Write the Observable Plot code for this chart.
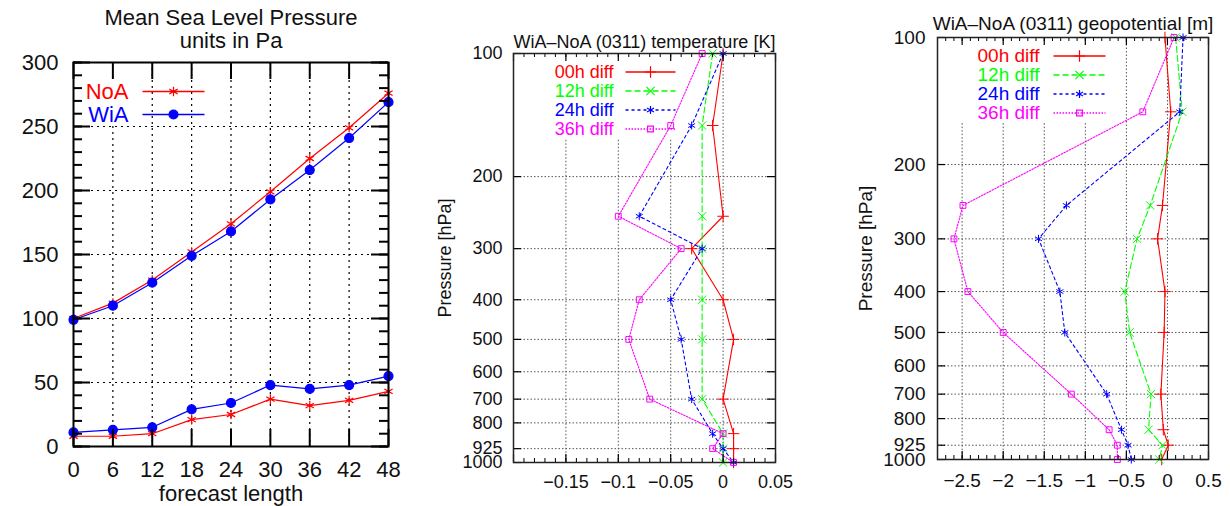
<!DOCTYPE html>
<html><head><meta charset="utf-8">
<script src="https://cdn.jsdelivr.net/npm/d3@7"></script>
<script src="https://cdn.jsdelivr.net/npm/@observablehq/plot@0.6"></script>
<style>
html,body{margin:0;padding:0;background:#fff;}
#wrap{position:relative;width:1230px;height:506px;overflow:hidden;background:#fff;}
#wrap svg{position:absolute;top:0;}
</style></head><body><div id="wrap"></div>
<script>
// ---------- data ----------
const leadHours = [0, 6, 12, 18, 24, 30, 36, 42, 48];
const noaRmse = [100, 112, 130, 152, 174, 199, 225, 249, 276];
const wiaRmse = [99, 110, 128, 149, 168, 193, 216, 241, 269];
const noaBias = [8, 8, 10, 21, 25, 37, 32, 36, 43];
const wiaBias = [11, 13, 15, 29, 34, 48, 45, 48, 55];
const mslpYTicks = [0, 50, 100, 150, 200, 250, 300];
const mslpNames = ["NoA", "WiA"];

const pressureLevels = [100, 150, 250, 300, 400, 500, 700, 850, 925, 1000];
const pressureTicks = [100, 200, 300, 400, 500, 600, 700, 800, 925, 1000];
const diffLabels = ["00h diff", "12h diff", "24h diff", "36h diff"];

const tempDiff00 = [0, -0.01, 0, -0.03, 0, 0.01, 0, 0.01, 0.01, 0.01];
const tempDiff12 = [-0.01, -0.02, -0.02, -0.02, -0.02, -0.02, -0.02, 0, 0, 0];
const tempDiff24 = [0, -0.03, -0.08, -0.02, -0.05, -0.04, -0.03, -0.01, 0, 0.01];
const tempDiff36 = [-0.02, -0.05, -0.1, -0.04, -0.08, -0.09, -0.07, 0, -0.01, 0.01];
const tempXTicks = [-0.15, -0.1, -0.05, 0, 0.05];

const geoDiff00 = [-0.03, 0.04, -0.06, -0.12, -0.03, -0.04, -0.08, -0.05, 0.01, -0.07];
const geoDiff12 = [0.1, 0.18, -0.21, -0.37, -0.52, -0.46, -0.2, -0.23, -0.06, -0.1];
const geoDiff24 = [0.19, 0.15, -1.23, -1.57, -1.31, -1.25, -0.74, -0.56, -0.48, -0.44];
const geoDiff36 = [0.08, -0.3, -2.49, -2.6, -2.43, -2.0, -1.17, -0.71, -0.61, -0.61];
const geoXTicks = [-2.5, -2, -1.5, -1, -0.5, 0, 0.5];

const titles = {
  mslp: ["Mean Sea Level Pressure", "units in Pa"],
  temp: "WiA\u2013NoA (0311) temperature [K]",
  geo: "WiA\u2013NoA (0311) geopotential [m]",
  xlab: "forecast length",
  ylab: "Pressure [hPa]"
};

// ---------- helpers ----------
const wrap = document.getElementById("wrap");
const FONT = "'Liberation Sans', Arial, Helvetica, sans-serif";
const fmt = d => d === 0 ? "0" : (d < 0 ? "\u2212" : "") + String(Math.abs(d));
const hline = half => ({draw(ctx) { ctx.moveTo(-half, 0); ctx.lineTo(half, 0); }});
const T = {lineAnchor: "middle", textAnchor: "middle"};

function edgeTicksY(values, len, fw, sw) {
  return [
    Plot.tickY(values, {y: d => d, insetRight: fw - len, stroke: "#000", strokeWidth: sw}),
    Plot.tickY(values, {y: d => d, insetLeft: fw - len, stroke: "#000", strokeWidth: sw})
  ];
}
function edgeTicksX(values, len, fh, sw) {
  return [
    Plot.tickX(values, {x: d => d, insetTop: fh - len, stroke: "#000", strokeWidth: sw}),
    Plot.tickX(values, {x: d => d, insetBottom: fh - len, stroke: "#000", strokeWidth: sw})
  ];
}
function legendMarks(items, o) {
  const marks = [];
  items.forEach((s, i) => {
    const dy = o.rowDy[i];
    marks.push(Plot.text([s.name], {frameAnchor: "top-left", dx: o.textDx, dy, text: d => d,
      textAnchor: "end", lineAnchor: "middle", fill: s.color, fontSize: o.fontSize}));
    marks.push(Plot.dot([s.name], {frameAnchor: "top-left", dx: o.lineDx, dy, symbol: hline(o.half),
      stroke: s.color, strokeWidth: 1.5, strokeDasharray: s.dash, fill: "none"}));
    marks.push(Plot.dot([s.name], {frameAnchor: "top-left", dx: o.lineDx, dy, symbol: s.symbol,
      r: s.r, stroke: s.color, fill: s.fill, strokeWidth: 1.2}));
  });
  return marks;
}
function place(svg, left) { svg.style.left = left + "px"; wrap.append(svg); }

// ---------- panel 1: MSLP ----------
{
  const W = 420, H = 506, ml = 73, mr = 32, mt = 62, mb = 60;
  const fw = W - ml - mr, fh = H - mt - mb;
  const rows = ys => leadHours.map((h, i) => ({h, v: ys[i]}));
  const series = [
    {name: mslpNames[0], color: "#ff0000", symbol: "asterisk", r: 4.5, fill: "none", dash: null, sets: [noaRmse, noaBias]},
    {name: mslpNames[1], color: "#0000ff", symbol: "circle", r: 4.5, fill: "#0000ff", dash: null, sets: [wiaRmse, wiaBias]}
  ];
  const grid = {stroke: "#000", strokeOpacity: 1, strokeDasharray: "2,4", strokeWidth: 1.2};
  const marks = [
    Plot.gridY(mslpYTicks.slice(1, -1), grid),
    Plot.gridX(leadHours.slice(2, -1), grid),
    Plot.gridX(leadHours.slice(1, 2), {...grid, y1: 0, y2: 250})
  ];
  for (const s of series) for (const set of s.sets) {
    marks.push(Plot.line(rows(set), {x: "h", y: "v", stroke: s.color, strokeWidth: 1.2}));
    marks.push(Plot.dot(rows(set), {x: "h", y: "v", symbol: s.symbol, r: s.r, stroke: s.color, fill: s.fill, strokeWidth: 1.2}));
  }
  marks.push(
    ...edgeTicksY(d3.range(0, 301, 10), 9, fw, 2),
    ...edgeTicksY(mslpYTicks, 17, fw, 2),
    ...edgeTicksX(leadHours, 17, fh, 2),
    Plot.frame({stroke: "#000", strokeWidth: 2}),
    Plot.axisY(mslpYTicks, {anchor: "left", label: null, tickSize: 0, tickPadding: 15, tickFormat: fmt, fontSize: 22}),
    Plot.axisX(leadHours, {anchor: "bottom", label: null, tickSize: 0, tickPadding: 15, tickFormat: fmt, fontSize: 22}),
    Plot.text([titles.xlab], {...T, frameAnchor: "bottom", dy: 47, text: d => d, fontSize: 22}),
    Plot.text([titles.mslp[0]], {...T, frameAnchor: "top", dy: -45, text: d => d, fontSize: 22}),
    Plot.text([titles.mslp[1]], {...T, frameAnchor: "top", dy: -22, text: d => d, fontSize: 22}),
    ...legendMarks(series, {textDx: 55, lineDx: 100, half: 31, rowDy: [29, 52], fontSize: 22})
  );
  place(Plot.plot({
    width: W, height: H, marginLeft: ml, marginRight: mr, marginTop: mt, marginBottom: mb,
    x: {domain: [0, 48], label: null}, y: {domain: [0, 300], label: null},
    style: {fontFamily: FONT, fontSize: "22px", color: "#111", background: "#fff", overflow: "visible"},
    marks
  }), 0);
}

// ---------- panels 2 & 3: profiles ----------
function profilePanel(c) {
  const fw = c.W - c.ml - c.mr, fh = c.H - c.mt - c.mb;
  const specs = [
    {color: "#ff0000", dash: null, symbol: "plus", r: 3.8, fill: "none"},
    {color: "#00ff00", dash: "6,3", symbol: "times", r: 3.8, fill: "none"},
    {color: "#0000ff", dash: "3,3", symbol: "asterisk", r: 3.8, fill: "none"},
    {color: "#ff00ff", dash: "1.5,1.5", symbol: "square", r: 3.3, fill: "none"}
  ];
  const series = specs.map((s, i) => ({...s, name: diffLabels[i], values: c.sets[i]}));
  const grid = {stroke: "#555", strokeOpacity: 1, strokeDasharray: "1.5,2", strokeWidth: 1};
  const marks = [
    Plot.gridY(pressureTicks.slice(1, -1), grid),
    Plot.gridX(c.gridPartial, {...grid, y1: c.gridTop, y2: 1000}),
    Plot.gridX(c.gridFull, grid)
  ];
  for (const s of series) {
    const rows = pressureLevels.map((p, i) => ({p, v: s.values[i]}));
    marks.push(Plot.line(rows, {x: "v", y: "p", stroke: s.color, strokeWidth: 1.1, strokeDasharray: s.dash}));
    marks.push(Plot.dot(rows, {x: "v", y: "p", symbol: s.symbol, r: s.r, stroke: s.color, fill: s.fill, strokeWidth: 1}));
  }
  marks.push(
    ...edgeTicksY(pressureTicks, 8, fw, 1.2),
    ...edgeTicksX(c.xMinor, 4, fh, 1),
    ...edgeTicksX(c.xMajor, 8, fh, 1.2),
    Plot.frame({stroke: "#222", strokeWidth: 1.5}),
    Plot.axisY(pressureTicks, {anchor: "left", label: null, tickSize: 0, tickPadding: c.yPad, tickFormat: d => String(d), fontSize: c.fs}),
    Plot.axisX(c.xLabels, {anchor: "bottom", label: null, tickSize: 0, tickPadding: c.xPad, tickFormat: fmt, fontSize: c.fs}),
    Plot.text([c.title], {...T, frameAnchor: "top", dy: c.titleDy, text: d => d, fontSize: c.fs}),
    Plot.text([titles.ylab], {...T, frameAnchor: "left", dx: c.ylabDx, rotate: -90, text: d => d, fontSize: c.fs}),
    ...legendMarks(series, c.legend)
  );
  place(Plot.plot({
    width: c.W, height: c.H, marginLeft: c.ml, marginRight: c.mr, marginTop: c.mt, marginBottom: c.mb,
    x: {domain: c.xDomain, label: null},
    y: {type: "log", domain: [100, 1000], reverse: true, label: null},
    style: {fontFamily: FONT, fontSize: c.fs + "px", color: "#111", background: "#fff", overflow: "visible"},
    marks
  }), c.left);
}

profilePanel({
  left: 420, W: 410, H: 506, ml: 93, mr: 55, mt: 53, mb: 44,
  xDomain: [-0.2, 0.05], sets: [tempDiff00, tempDiff12, tempDiff24, tempDiff36],
  xLabels: tempXTicks, xMajor: [-0.2, ...tempXTicks], xMinor: d3.range(-20, 6).map(d => d / 100),
  gridPartial: tempXTicks.slice(0, 3), gridFull: tempXTicks.slice(3, 4), gridTop: 163,
  fs: 18, yPad: 11, xPad: 13, titleDy: -11, ylabDx: -68, title: titles.temp,
  legend: {textDx: 100, lineDx: 137, half: 25, rowDy: [18.5, 37.5, 56.5, 75.5], fontSize: 18}
});

profilePanel({
  left: 830, W: 400, H: 506, ml: 107, mr: 22, mt: 37, mb: 47,
  xDomain: [-2.8, 0.5], sets: [geoDiff00, geoDiff12, geoDiff24, geoDiff36],
  xLabels: geoXTicks, xMajor: geoXTicks, xMinor: d3.range(-28, 6).map(d => d / 10),
  gridPartial: geoXTicks.slice(0, 4), gridFull: geoXTicks.slice(4, 6), gridTop: 160,
  fs: 19, yPad: 12, xPad: 14, titleDy: -14, ylabDx: -72, title: titles.geo,
  legend: {textDx: 102, lineDx: 142, half: 26, rowDy: [18.5, 37.5, 56.5, 75.5], fontSize: 19}
});
</script></body></html>
